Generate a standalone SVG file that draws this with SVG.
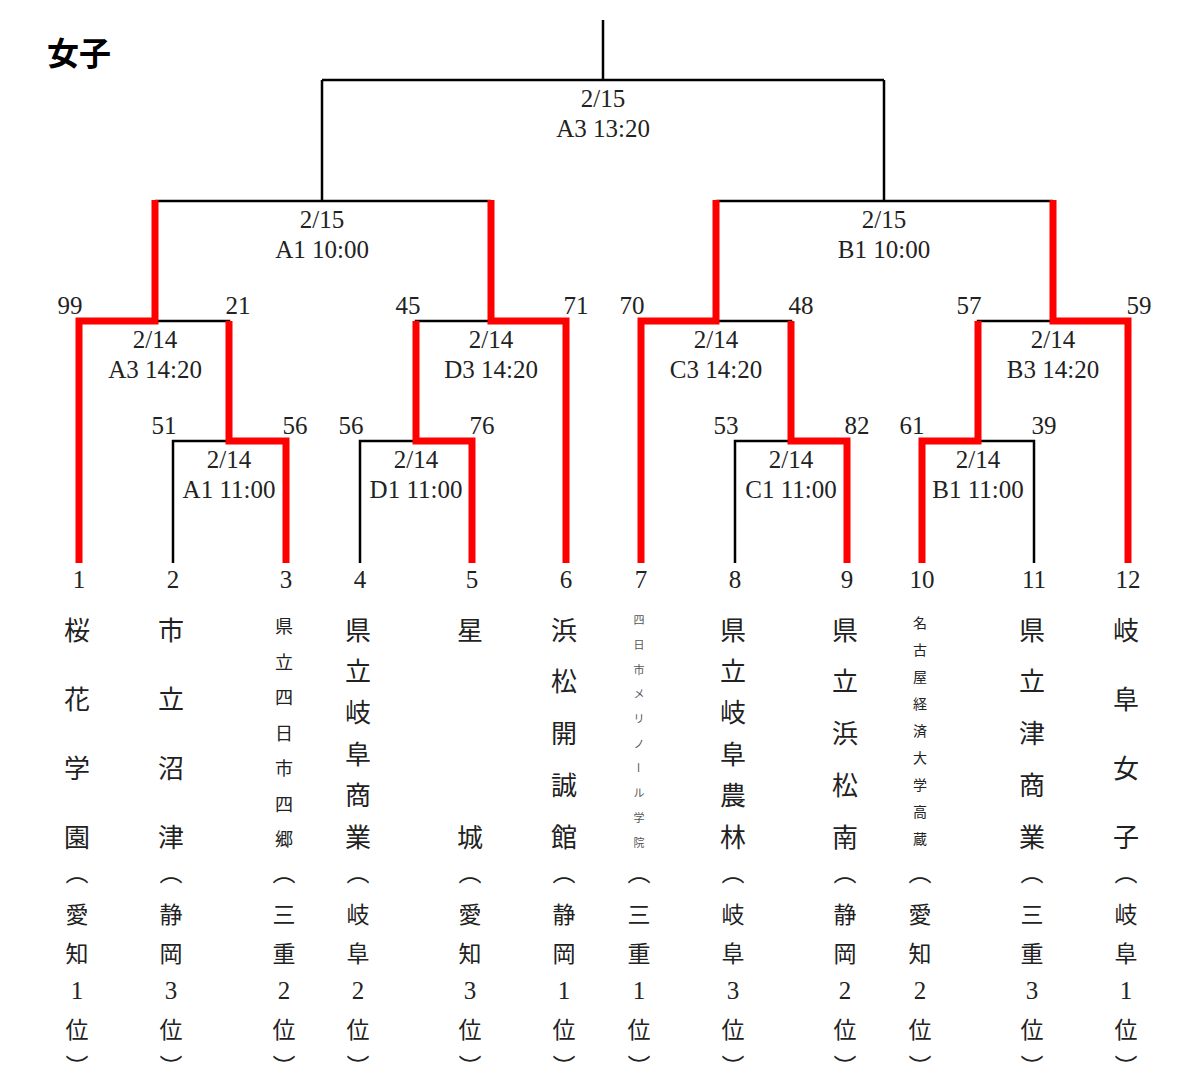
<svg xmlns="http://www.w3.org/2000/svg" width="1179" height="1089" viewBox="0 0 1179 1089">
<style>
.ln{stroke:#000;stroke-width:2.5;fill:none}
.win{stroke:#ff0000;stroke-width:7;fill:none;stroke-linejoin:miter;stroke-linecap:butt}
.num{font-family:"Liberation Serif",serif;font-size:25px;fill:#222;text-anchor:middle}
.nm{font-family:"Noto Sans CJK JP",sans-serif;fill:#222;text-anchor:middle;dominant-baseline:central}
.n26{font-size:26px}
.n18{font-size:18px}
.n14{font-size:14px}
.n11{font-size:11px;fill:#555}
.pf{font-family:"Noto Sans CJK JP",sans-serif;font-size:23px;fill:#222;text-anchor:middle;dominant-baseline:central}
.po{font-family:"Noto Sans CJK JP",sans-serif;font-size:23px;fill:#222;text-anchor:middle;dominant-baseline:central;transform:translateY(-9px)}
.pc{font-family:"Noto Sans CJK JP",sans-serif;font-size:23px;fill:#222;text-anchor:middle;dominant-baseline:central;transform:translateY(12px)}
.pd{font-family:"Liberation Serif",serif;font-size:25px;fill:#222;text-anchor:middle;dominant-baseline:central}
.title{font-family:"Noto Sans CJK JP",sans-serif;font-size:32px;font-weight:bold;fill:#000}
</style>
<rect width="1179" height="1089" fill="#fff"/>
<text class="title" x="47" y="65">女子</text>

<g id="connectors">
  <path class="ln" d="M603,20 V80 M322,80 H884 M322,80 V201 M884,80 V201"/>
  <path class="ln" d="M155,201 H491 M155,201 V321 M491,201 V321"/>
  <path class="ln" d="M716,201 H1053 M716,201 V321 M1053,201 V321"/>
  <path class="ln" d="M79,563 V321 H229 V441"/>
  <path class="ln" d="M173,563 V441 H286 V563"/>
  <path class="ln" d="M566,563 V321 H416 V441"/>
  <path class="ln" d="M360,563 V441 H472 V563"/>
  <path class="ln" d="M641,563 V321 H791 V441"/>
  <path class="ln" d="M735,563 V441 H847 V563"/>
  <path class="ln" d="M1128,563 V321 H978 V441"/>
  <path class="ln" d="M922,563 V441 H1034 V563"/>
  <path class="win" d="M79,563 V321 H155 V200"/>
  <path class="win" d="M229,321 V441 H286 V563"/>
  <path class="win" d="M491,200 V321 H566 V563"/>
  <path class="win" d="M416,321 V441 H472 V563"/>
  <path class="win" d="M716,200 V321 H641 V563"/>
  <path class="win" d="M791,321 V441 H847 V563"/>
  <path class="win" d="M1053,200 V321 H1128 V563"/>
  <path class="win" d="M978,321 V441 H922 V563"/>
</g>

<g id="match-final"><text class="num" x="603" y="107">2/15</text><text class="num" x="603" y="137">A3 13:20</text></g>
<g id="match-semi-a"><text class="num" x="322" y="228">2/15</text><text class="num" x="322" y="258">A1 10:00</text></g>
<g id="match-semi-b"><text class="num" x="884" y="228">2/15</text><text class="num" x="884" y="258">B1 10:00</text></g>
<g id="match-a3"><text class="num" x="155" y="348">2/14</text><text class="num" x="155" y="378">A3 14:20</text>
  <text class="num" x="70" y="314">99</text><text class="num" x="238" y="314">21</text></g>
<g id="match-d3"><text class="num" x="491" y="348">2/14</text><text class="num" x="491" y="378">D3 14:20</text>
  <text class="num" x="408" y="314">45</text><text class="num" x="576" y="314">71</text></g>
<g id="match-c3"><text class="num" x="716" y="348">2/14</text><text class="num" x="716" y="378">C3 14:20</text>
  <text class="num" x="632" y="314">70</text><text class="num" x="801" y="314">48</text></g>
<g id="match-b3"><text class="num" x="1053" y="348">2/14</text><text class="num" x="1053" y="378">B3 14:20</text>
  <text class="num" x="969" y="314">57</text><text class="num" x="1139" y="314">59</text></g>
<g id="match-a1"><text class="num" x="229" y="468">2/14</text><text class="num" x="229" y="498">A1 11:00</text>
  <text class="num" x="164" y="434">51</text><text class="num" x="295" y="434">56</text></g>
<g id="match-d1"><text class="num" x="416" y="468">2/14</text><text class="num" x="416" y="498">D1 11:00</text>
  <text class="num" x="351" y="434">56</text><text class="num" x="482" y="434">76</text></g>
<g id="match-c1"><text class="num" x="791" y="468">2/14</text><text class="num" x="791" y="498">C1 11:00</text>
  <text class="num" x="726" y="434">53</text><text class="num" x="857" y="434">82</text></g>
<g id="match-b1"><text class="num" x="978" y="468">2/14</text><text class="num" x="978" y="498">B1 11:00</text>
  <text class="num" x="912" y="434">61</text><text class="num" x="1044" y="434">39</text></g>

<g id="team-1">
  <text class="num" x="79" y="588">1</text>
  <text class="nm n26" x="77" y="628">桜</text><text class="nm n26" x="77" y="697">花</text><text class="nm n26" x="77" y="766">学</text><text class="nm n26" x="77" y="835">園</text>
  <text class="po" x="77" y="880">︵</text><text class="pf" x="77" y="913">愛</text><text class="pf" x="77" y="952">知</text><text class="pd" x="77" y="990">1</text><text class="pf" x="77" y="1028">位</text><text class="pc" x="77" y="1053">︶</text>
</g>
<g id="team-2">
  <text class="num" x="173" y="588">2</text>
  <text class="nm n26" x="171" y="628">市</text><text class="nm n26" x="171" y="697">立</text><text class="nm n26" x="171" y="766">沼</text><text class="nm n26" x="171" y="835">津</text>
  <text class="po" x="171" y="880">︵</text><text class="pf" x="171" y="913">静</text><text class="pf" x="171" y="952">岡</text><text class="pd" x="171" y="990">3</text><text class="pf" x="171" y="1028">位</text><text class="pc" x="171" y="1053">︶</text>
</g>
<g id="team-3">
  <text class="num" x="286" y="588">3</text>
  <text class="nm n18" x="284" y="625">県</text><text class="nm n18" x="284" y="660.5">立</text><text class="nm n18" x="284" y="696">四</text><text class="nm n18" x="284" y="731.5">日</text><text class="nm n18" x="284" y="767">市</text><text class="nm n18" x="284" y="802.5">四</text><text class="nm n18" x="284" y="838">郷</text>
  <text class="po" x="284" y="880">︵</text><text class="pf" x="284" y="913">三</text><text class="pf" x="284" y="952">重</text><text class="pd" x="284" y="990">2</text><text class="pf" x="284" y="1028">位</text><text class="pc" x="284" y="1053">︶</text>
</g>
<g id="team-4">
  <text class="num" x="360" y="588">4</text>
  <text class="nm n26" x="358" y="628">県</text><text class="nm n26" x="358" y="669.4">立</text><text class="nm n26" x="358" y="710.8">岐</text><text class="nm n26" x="358" y="752.2">阜</text><text class="nm n26" x="358" y="793.6">商</text><text class="nm n26" x="358" y="835">業</text>
  <text class="po" x="358" y="880">︵</text><text class="pf" x="358" y="913">岐</text><text class="pf" x="358" y="952">阜</text><text class="pd" x="358" y="990">2</text><text class="pf" x="358" y="1028">位</text><text class="pc" x="358" y="1053">︶</text>
</g>
<g id="team-5">
  <text class="num" x="472" y="588">5</text>
  <text class="nm n26" x="470" y="628">星</text><text class="nm n26" x="470" y="835">城</text>
  <text class="po" x="470" y="880">︵</text><text class="pf" x="470" y="913">愛</text><text class="pf" x="470" y="952">知</text><text class="pd" x="470" y="990">3</text><text class="pf" x="470" y="1028">位</text><text class="pc" x="470" y="1053">︶</text>
</g>
<g id="team-6">
  <text class="num" x="566" y="588">6</text>
  <text class="nm n26" x="564" y="628">浜</text><text class="nm n26" x="564" y="679.75">松</text><text class="nm n26" x="564" y="731.5">開</text><text class="nm n26" x="564" y="783.25">誠</text><text class="nm n26" x="564" y="835">館</text>
  <text class="po" x="564" y="880">︵</text><text class="pf" x="564" y="913">静</text><text class="pf" x="564" y="952">岡</text><text class="pd" x="564" y="990">1</text><text class="pf" x="564" y="1028">位</text><text class="pc" x="564" y="1053">︶</text>
</g>
<g id="team-7">
  <text class="num" x="641" y="588">7</text>
  <text class="nm n11" x="639" y="619">四</text><text class="nm n11" x="639" y="643.8">日</text><text class="nm n11" x="639" y="668.6">市</text><text class="nm n11" x="639" y="693.3">メ</text><text class="nm n11" x="639" y="718.1">リ</text><text class="nm n11" x="639" y="742.9">ノ</text><text class="nm n11" x="639" y="767.7" transform="rotate(90 639 767.7)">ー</text><text class="nm n11" x="639" y="792.4">ル</text><text class="nm n11" x="639" y="817.2">学</text><text class="nm n11" x="639" y="842">院</text>
  <text class="po" x="639" y="880">︵</text><text class="pf" x="639" y="913">三</text><text class="pf" x="639" y="952">重</text><text class="pd" x="639" y="990">1</text><text class="pf" x="639" y="1028">位</text><text class="pc" x="639" y="1053">︶</text>
</g>
<g id="team-8">
  <text class="num" x="735" y="588">8</text>
  <text class="nm n26" x="733" y="628">県</text><text class="nm n26" x="733" y="669.4">立</text><text class="nm n26" x="733" y="710.8">岐</text><text class="nm n26" x="733" y="752.2">阜</text><text class="nm n26" x="733" y="793.6">農</text><text class="nm n26" x="733" y="835">林</text>
  <text class="po" x="733" y="880">︵</text><text class="pf" x="733" y="913">岐</text><text class="pf" x="733" y="952">阜</text><text class="pd" x="733" y="990">3</text><text class="pf" x="733" y="1028">位</text><text class="pc" x="733" y="1053">︶</text>
</g>
<g id="team-9">
  <text class="num" x="847" y="588">9</text>
  <text class="nm n26" x="845" y="628">県</text><text class="nm n26" x="845" y="679.75">立</text><text class="nm n26" x="845" y="731.5">浜</text><text class="nm n26" x="845" y="783.25">松</text><text class="nm n26" x="845" y="835">南</text>
  <text class="po" x="845" y="880">︵</text><text class="pf" x="845" y="913">静</text><text class="pf" x="845" y="952">岡</text><text class="pd" x="845" y="990">2</text><text class="pf" x="845" y="1028">位</text><text class="pc" x="845" y="1053">︶</text>
</g>
<g id="team-10">
  <text class="num" x="922" y="588">10</text>
  <text class="nm n14" x="920" y="622">名</text><text class="nm n14" x="920" y="649">古</text><text class="nm n14" x="920" y="676">屋</text><text class="nm n14" x="920" y="703">経</text><text class="nm n14" x="920" y="730">済</text><text class="nm n14" x="920" y="757">大</text><text class="nm n14" x="920" y="784">学</text><text class="nm n14" x="920" y="811">高</text><text class="nm n14" x="920" y="838">蔵</text>
  <text class="po" x="920" y="880">︵</text><text class="pf" x="920" y="913">愛</text><text class="pf" x="920" y="952">知</text><text class="pd" x="920" y="990">2</text><text class="pf" x="920" y="1028">位</text><text class="pc" x="920" y="1053">︶</text>
</g>
<g id="team-11">
  <text class="num" x="1034" y="588">11</text>
  <text class="nm n26" x="1032" y="628">県</text><text class="nm n26" x="1032" y="679.75">立</text><text class="nm n26" x="1032" y="731.5">津</text><text class="nm n26" x="1032" y="783.25">商</text><text class="nm n26" x="1032" y="835">業</text>
  <text class="po" x="1032" y="880">︵</text><text class="pf" x="1032" y="913">三</text><text class="pf" x="1032" y="952">重</text><text class="pd" x="1032" y="990">3</text><text class="pf" x="1032" y="1028">位</text><text class="pc" x="1032" y="1053">︶</text>
</g>
<g id="team-12">
  <text class="num" x="1128" y="588">12</text>
  <text class="nm n26" x="1126" y="628">岐</text><text class="nm n26" x="1126" y="697">阜</text><text class="nm n26" x="1126" y="766">女</text><text class="nm n26" x="1126" y="835">子</text>
  <text class="po" x="1126" y="880">︵</text><text class="pf" x="1126" y="913">岐</text><text class="pf" x="1126" y="952">阜</text><text class="pd" x="1126" y="990">1</text><text class="pf" x="1126" y="1028">位</text><text class="pc" x="1126" y="1053">︶</text>
</g>
</svg>
